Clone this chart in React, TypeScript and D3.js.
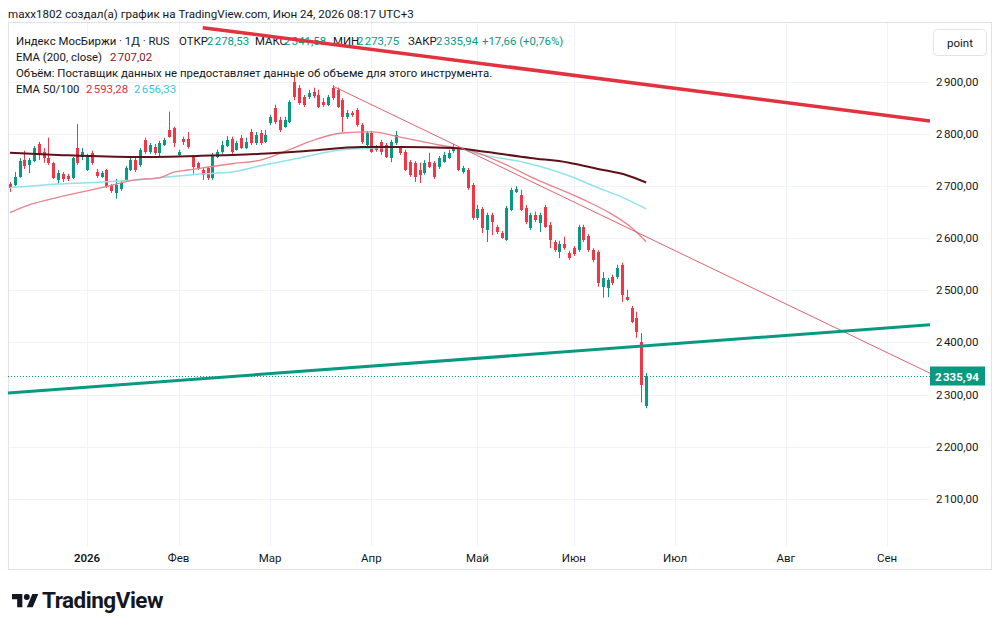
import React, { Component } from "react";
import * as d3 from "d3";

// Индекс МосБиржи, дневные свечи (дек 2025 — 23 июня 2026)
const opens = [
  2704, 2702, 2718, 2750, 2741, 2748, 2781, 2766, 2754, 2745,
  2712, 2724, 2720, 2716, 2773, 2756, 2731, 2764, 2727, 2718,
  2731, 2702, 2687, 2695, 2712, 2731, 2750, 2741, 2789, 2766,
  2775, 2764, 2779, 2808, 2812, 2760, 2791, 2791, 2756, 2745,
  2731, 2735, 2716, 2756, 2766, 2777, 2791, 2770, 2793, 2773,
  2804, 2783, 2802, 2785, 2821, 2850, 2827, 2814, 2823, 2900,
  2889, 2871, 2871, 2881, 2875, 2862, 2856, 2889, 2885, 2865,
  2833, 2840, 2846, 2817, 2779, 2802, 2775, 2785, 2779, 2754,
  2783, 2773, 2766, 2746, 2745, 2731, 2725, 2746, 2745, 2737,
  2746, 2754, 2768, 2773, 2727, 2731, 2702, 2639, 2656, 2616,
  2645, 2622, 2610, 2597, 2654, 2689, 2683, 2658, 2620, 2645,
  2629, 2660, 2626, 2593, 2574, 2589, 2572, 2581, 2577, 2622,
  2604, 2577, 2574, 2507, 2505, 2526, 2526, 2549, 2487, 2466,
  2447, 2401, 2278.53,
];
const highs = [
  2708, 2727, 2754, 2768, 2754, 2777, 2785, 2773, 2793, 2747,
  2731, 2727, 2724, 2756, 2819, 2773, 2762, 2768, 2733, 2729,
  2733, 2704, 2714, 2710, 2739, 2754, 2754, 2773, 2793, 2783,
  2781, 2787, 2793, 2843, 2814, 2770, 2795, 2804, 2760, 2747,
  2737, 2737, 2764, 2770, 2787, 2796, 2795, 2787, 2798, 2793,
  2810, 2804, 2808, 2808, 2837, 2856, 2833, 2833, 2865, 2913,
  2894, 2875, 2885, 2889, 2885, 2869, 2875, 2894, 2889, 2869,
  2846, 2844, 2850, 2821, 2806, 2806, 2779, 2789, 2783, 2789,
  2806, 2777, 2770, 2750, 2748, 2745, 2750, 2764, 2748, 2758,
  2766, 2770, 2781, 2777, 2739, 2735, 2706, 2664, 2660, 2649,
  2649, 2626, 2614, 2662, 2697, 2700, 2693, 2664, 2649, 2651,
  2649, 2664, 2631, 2597, 2595, 2603, 2576, 2585, 2626, 2626,
  2608, 2581, 2577, 2535, 2524, 2530, 2549, 2553, 2501, 2470,
  2459, 2418, 2341.58,
];
const lows = [
  2689, 2700, 2716, 2733, 2725, 2746, 2750, 2745, 2741, 2714,
  2704, 2708, 2710, 2714, 2741, 2750, 2729, 2741, 2716, 2716,
  2697, 2687, 2676, 2691, 2708, 2729, 2727, 2737, 2762, 2762,
  2760, 2756, 2777, 2793, 2775, 2756, 2779, 2772, 2724, 2731,
  2712, 2712, 2712, 2754, 2762, 2775, 2762, 2768, 2771, 2771,
  2779, 2779, 2779, 2783, 2817, 2819, 2804, 2812, 2821, 2865,
  2856, 2852, 2867, 2869, 2850, 2852, 2854, 2865, 2850, 2804,
  2829, 2833, 2814, 2781, 2775, 2764, 2766, 2760, 2754, 2746,
  2779, 2760, 2729, 2718, 2708, 2706, 2722, 2735, 2714, 2733,
  2745, 2752, 2764, 2729, 2724, 2693, 2635, 2635, 2610, 2593,
  2606, 2608, 2599, 2595, 2652, 2687, 2652, 2627, 2616, 2631,
  2612, 2620, 2581, 2574, 2562, 2578, 2558, 2566, 2574, 2593,
  2574, 2554, 2507, 2486, 2487, 2510, 2522, 2478, 2480, 2437,
  2409, 2285, 2273.75,
];
const closes = [
  2697, 2718, 2748, 2739, 2750, 2773, 2762, 2754, 2745, 2716,
  2725, 2714, 2714, 2754, 2745, 2766, 2758, 2745, 2720, 2725,
  2699, 2691, 2702, 2706, 2735, 2750, 2731, 2770, 2766, 2779,
  2764, 2783, 2789, 2795, 2783, 2766, 2785, 2775, 2737, 2735,
  2722, 2716, 2760, 2766, 2779, 2789, 2766, 2783, 2773, 2785,
  2783, 2798, 2783, 2798, 2833, 2823, 2808, 2827, 2862, 2871,
  2860, 2856, 2879, 2873, 2852, 2856, 2871, 2869, 2852, 2833,
  2840, 2837, 2817, 2785, 2802, 2766, 2770, 2766, 2756, 2785,
  2798, 2764, 2731, 2722, 2718, 2722, 2745, 2737, 2718, 2754,
  2760, 2764, 2771, 2731, 2735, 2697, 2639, 2656, 2620, 2645,
  2631, 2612, 2601, 2658, 2693, 2695, 2654, 2631, 2645, 2635,
  2645, 2622, 2597, 2578, 2589, 2581, 2562, 2570, 2622, 2597,
  2577, 2558, 2514, 2524, 2520, 2514, 2543, 2491, 2482, 2440,
  2420, 2318.28, 2335.94,
];

// скользящие средние: [номер бара, значение]
const ema50 = [
  [0, 2649], [4, 2664], [8, 2674], [19, 2697], [26, 2712], [31, 2716],
  [34, 2727], [37, 2731], [46, 2743], [52, 2750], [58, 2770], [62, 2785],
  [69, 2802], [75, 2804], [81, 2794], [89, 2779], [95, 2770], [102, 2745],
  [109, 2714], [119, 2674], [124, 2651], [129, 2620], [132, 2593.28],
];
const ema100 = [
  [0, 2697], [10, 2704], [19, 2708], [26, 2712], [33, 2718], [39, 2723],
  [46, 2727], [52, 2739], [58, 2750], [62, 2758], [68, 2769], [75, 2773],
  [81, 2775], [92, 2773], [98, 2760], [107, 2745], [116, 2720], [122, 2697],
  [127, 2679], [132, 2656.33],
];
const ema200 = [
  [0, 2764], [10, 2760], [26, 2756], [39, 2758], [52, 2762], [62, 2768],
  [73, 2775], [81, 2775], [92, 2773], [97, 2768], [108, 2754], [116, 2745],
  [122, 2733], [128, 2721], [132, 2707.02],
];

// нарисованные линии тренда: [номер бара, цена]
const redTrend = [[40, 3004], [190.9, 2825]];
const thinTrend = [[67, 2892], [190.9, 2341]];
const greenTrend = [[-0.4, 2303], [190.9, 2434]];

const priceTicks = [2100, 2200, 2300, 2400, 2500, 2600, 2700, 2800, 2900];
const monthLabels = ["2026", "Фев", "Мар", "Апр", "Май", "Июн", "Июл", "Авг", "Сен"];
const monthBars = [16, 35, 54, 75, 97, 117, 138, 161, 182];

const UP = "#089981";
const DOWN = "#f23645";
const TEXT = "#131722";
const FONT = "Roboto, 'Noto Sans', sans-serif";

export default class App extends Component {
  chartRef: any;

  componentDidMount() {
    document.body.style.margin = "0";
    const width = 1000;
    const height = 629;
    const pane = { left: 8, top: 22, right: 930, bottom: 540 };

    const svg = d3.select(this.chartRef);
    svg.selectAll("*").remove();
    svg.attr("width", width).attr("height", height).style("display", "block");

    const x = d3.scaleLinear().domain([-0.4, 190.9]).range([pane.left, pane.right]);
    const y = d3.scaleLinear().domain([2021, 3015]).range([pane.bottom, pane.top]);
    const loc = d3.formatLocale({ decimal: ",", thousands: "\u202f", grouping: [3], currency: ["", ""] });
    const fmt = loc.format(",.2f");

    svg.append("rect").attr("width", width).attr("height", height).attr("fill", "#fff");

    svg.append("defs").append("clipPath").attr("id", "pane")
      .append("rect")
      .attr("x", pane.left).attr("y", pane.top)
      .attr("width", pane.right - pane.left).attr("height", pane.bottom - pane.top);

    // сетка
    const grid = svg.append("g").attr("stroke", "#f0f3fa").attr("stroke-width", 1);
    grid.selectAll(".h").data(priceTicks).enter().append("line")
      .attr("x1", pane.left).attr("x2", pane.right)
      .attr("y1", (d) => Math.round(y(d)) + 0.5).attr("y2", (d) => Math.round(y(d)) + 0.5);
    grid.selectAll(".v").data(monthBars).enter().append("line")
      .attr("x1", (d) => Math.round(x(d)) + 0.5).attr("x2", (d) => Math.round(x(d)) + 0.5)
      .attr("y1", pane.top).attr("y2", pane.bottom + 6);

    // рамка
    svg.append("rect")
      .attr("x", 8.5).attr("y", 22.5).attr("width", 983).attr("height", 547)
      .attr("fill", "none").attr("stroke", "#e0e3eb");

    const body = svg.append("g").attr("clip-path", "url(#pane)");

    // свечи
    const idx = d3.range(opens.length);
    const candle = body.append("g").selectAll("g").data(idx).enter().append("g")
      .attr("fill", (i) => (closes[i] >= opens[i] ? UP : DOWN));
    candle.append("rect")
      .attr("x", (i) => Math.round(x(i)))
      .attr("width", 1)
      .attr("y", (i) => y(highs[i]))
      .attr("height", (i) => y(lows[i]) - y(highs[i]));
    candle.append("rect")
      .attr("x", (i) => Math.round(x(i)) - 1)
      .attr("width", 3)
      .attr("y", (i) => y(Math.max(opens[i], closes[i])))
      .attr("height", (i) => Math.max(1, Math.abs(y(opens[i]) - y(closes[i]))))
      .attr("shape-rendering", "crispEdges");

    // EMA
    const curve = d3.line().x((d: any) => x(d[0])).y((d: any) => y(d[1])).curve(d3.curveMonotoneX);
    body.append("path").attr("d", curve(ema100 as any)).attr("fill", "none")
      .attr("stroke", "#8ee3ec").attr("stroke-width", 1.5);
    body.append("path").attr("d", curve(ema50 as any)).attr("fill", "none")
      .attr("stroke", "#e8838a").attr("stroke-width", 1.3);
    body.append("path").attr("d", curve(ema200 as any)).attr("fill", "none")
      .attr("stroke", "#5e1217").attr("stroke-width", 2);

    // линии тренда
    const straight = d3.line().x((d: any) => x(d[0])).y((d: any) => y(d[1]));
    body.append("path").attr("d", straight(thinTrend as any)).attr("fill", "none")
      .attr("stroke", "#e0626d").attr("stroke-width", 1);
    body.append("path").attr("d", straight(greenTrend as any)).attr("fill", "none")
      .attr("stroke", UP).attr("stroke-width", 3);

    // последняя цена
    const last = closes[closes.length - 1];
    const ly = Math.round(y(last)) + 0.5;
    svg.append("line")
      .attr("x1", pane.left).attr("x2", pane.right).attr("y1", ly).attr("y2", ly)
      .attr("stroke", UP).attr("stroke-dasharray", "1 2");

    // шкала цен
    svg.append("g").selectAll("text").data(priceTicks).enter().append("text")
      .attr("x", 936).attr("y", (d) => y(d) + 4)
      .attr("font-family", FONT).attr("font-size", 11.5).attr("fill", TEXT)
      .text((d) => fmt(d));
    svg.append("rect")
      .attr("x", 930).attr("y", ly - 10).attr("width", 55).attr("height", 19).attr("fill", UP);
    svg.append("text")
      .attr("x", 935).attr("y", ly + 4)
      .attr("font-family", FONT).attr("font-size", 11.5).attr("font-weight", 700).attr("fill", "#fff")
      .text(fmt(last));

    // кнопка масштаба
    svg.append("rect")
      .attr("x", 933.5).attr("y", 29.5).attr("width", 53).attr("height", 26).attr("rx", 4)
      .attr("fill", "#fff").attr("stroke", "#e0e3eb");
    svg.append("text")
      .attr("x", 960).attr("y", 46.5).attr("text-anchor", "middle")
      .attr("font-family", FONT).attr("font-size", 11.5).attr("fill", TEXT).text("point");

    // шкала времени
    svg.append("g").selectAll("text").data(monthBars).enter().append("text")
      .attr("x", (d) => x(d)).attr("y", 562).attr("text-anchor", "middle")
      .attr("font-family", FONT).attr("font-size", 11.5).attr("fill", TEXT)
      .attr("font-weight", (d, i) => (i === 0 ? 600 : 400))
      .text((d, i) => monthLabels[i]);

    // заголовок и легенда
    const label = (tx: number, ty: number, s: string, color = TEXT, size = 11.4) =>
      svg.append("text").attr("x", tx).attr("y", ty)
        .attr("font-family", FONT).attr("font-size", size).attr("fill", color).text(s);

    label(8, 18, "maxx1802 создал(а) график на TradingView.com, Июн 24, 2026 08:17 UTC+3", TEXT, 11.6);

    label(16, 45, "Индекс МосБиржи · 1Д · RUS");
    label(179, 45, "ОТКР");
    label(207, 45, fmt(opens[opens.length - 1]), UP);
    label(255, 45, "МАКС");
    label(284, 45, fmt(highs[highs.length - 1]), UP);
    label(333, 45, "МИН");
    label(357, 45, fmt(lows[lows.length - 1]), UP);
    label(408, 45, "ЗАКР");
    label(436, 45, fmt(last), UP);
    const chg = last - closes[closes.length - 2];
    label(482, 45, `+${fmt(chg)} (+${loc.format(".2f")((chg / closes[closes.length - 2]) * 100)}%)`, UP);

    label(16, 61, "EMA (200, close)");
    label(110, 61, fmt(ema200[ema200.length - 1][1]), "#801922");

    label(16, 77, "Объём: Поставщик данных не предоставляет данные об объеме для этого инструмента.");

    label(16, 93, "EMA 50/100");
    label(86, 93, fmt(ema50[ema50.length - 1][1]), "#d8333f");
    label(134, 93, fmt(ema100[ema100.length - 1][1]), "#3cc6d6");

    // толстая линия тренда рисуется поверх легенды
    svg.append("g").attr("clip-path", "url(#pane)")
      .append("path").attr("d", straight(redTrend as any)).attr("fill", "none")
      .attr("stroke", "#e2323f").attr("stroke-width", 3.5);

    // логотип
    const logo = svg.append("g").attr("transform", "translate(12,591) scale(0.74)").attr("fill", "#131722");
    logo.append("path").attr("d", "M14 22H7V11H0V4h14v18zM28 22h-8l7.5-18h8L28 22z");
    logo.append("circle").attr("cx", 20).attr("cy", 8).attr("r", 4);
    svg.append("text")
      .attr("x", 42).attr("y", 608)
      .attr("font-family", FONT).attr("font-size", 22.5).attr("font-weight", 700)
      .attr("letter-spacing", -0.5).attr("fill", "#131722")
      .text("TradingView");
  }

  render() {
    return (
      <div>
        <svg ref={(r) => (this.chartRef = r)}></svg>
      </div>
    );
  }
}
